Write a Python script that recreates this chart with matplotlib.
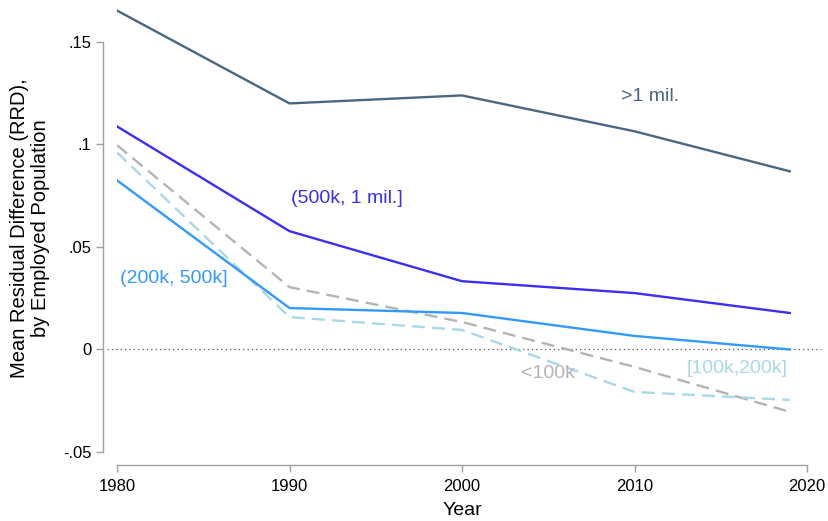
import matplotlib
matplotlib.use("Agg")
import matplotlib.pyplot as plt

plt.rcParams['font.family'] = ['Liberation Sans', 'DejaVu Sans']

years = [1980, 1990, 2000, 2010, 2019]
over_1mil = [0.1653, 0.1200, 0.1239, 0.1064, 0.0869]
mid_500k_1mil = [0.1088, 0.0577, 0.0333, 0.0275, 0.0178]
mid_200k_500k = [0.0825, 0.0202, 0.0178, 0.0066, 0.0000]
under_100k = [0.0996, 0.0304, 0.0134, -0.0085, -0.0304]
mid_100k_200k = [0.0961, 0.0158, 0.0095, -0.0207, -0.0246]

series_labels = [">1 mil.", "(500k, 1 mil.]", "(200k, 500k]", "<100k", "[100k,200k]"]
x_ticks = [1980, 1990, 2000, 2010, 2020]
y_ticks = [-0.05, 0, 0.05, 0.1, 0.15]
y_tick_labels = ["-.05", "0", ".05", ".1", ".15"]

c_big = "#4a6682"
c_500 = "#3b2ef5"
c_200 = "#3399ff"
c_100 = "#b4b4b4"
c_lb = "#a9d8e8"

fig = plt.figure(figsize=(8.29, 5.21), dpi=100)
ax = fig.add_axes([117 / 829, 69 / 521, 690 / 829, 447 / 521])

ax.axhline(0, xmin=-0.015, xmax=1.02, color="#555555", linestyle=(0, (1, 2.5)),
           linewidth=0.9, clip_on=False, zorder=1)

lw = 1.7
ax.plot(years, over_1mil, color=c_big, lw=lw, zorder=3)
ax.plot(years, mid_500k_1mil, color=c_500, lw=lw, zorder=3)
ax.plot(years, mid_200k_500k, color=c_200, lw=lw, zorder=3)
ax.plot(years, under_100k, color=c_100, lw=lw, linestyle=(0, (5.5, 3)), zorder=2)
ax.plot(years, mid_100k_200k, color=c_lb, lw=lw, linestyle=(0, (5.5, 3)), zorder=2)

fs = 14
ax.text(2009.2, 0.1234, series_labels[0], color=c_big, fontsize=fs, va="center")
ax.text(1990.1, 0.0738, series_labels[1], color=c_500, fontsize=fs, va="center")
ax.text(1980.2, 0.0348, series_labels[2], color=c_200, fontsize=fs, va="center")
ax.text(2003.4, -0.0119, series_labels[3], color=c_100, fontsize=fs, va="center")
ax.text(2013.0, -0.0095, series_labels[4], color=c_lb, fontsize=fs, va="center")

ax.set_xlim(1980, 2020)
ax.set_ylim(-0.05, 0.168)
ax.set_xticks(x_ticks)
ax.set_yticks(y_ticks)
ax.set_yticklabels(y_tick_labels)

for s in ("top", "right"):
    ax.spines[s].set_visible(False)
ax.spines["left"].set_position(("outward", 10))
ax.spines["bottom"].set_position(("outward", 9.5))
ax.spines["left"].set_bounds(-0.05, 0.15)
ax.spines["bottom"].set_bounds(1980, 2020)
for s in ("left", "bottom"):
    ax.spines[s].set_color("#a0a0a0")
    ax.spines[s].set_linewidth(1.0)
ax.tick_params(axis="both", colors="#a0a0a0", labelcolor="black", labelsize=12,
               length=5, width=1.0)
ax.tick_params(axis="x", pad=5)

ax.set_xlabel("Year", fontsize=14, labelpad=6)
ax.set_ylabel("Mean Residual Difference (RRD),\nby Employed Population", fontsize=14.5,
              labelpad=9, linespacing=1.15)

fig.savefig("out.png", dpi=100)
